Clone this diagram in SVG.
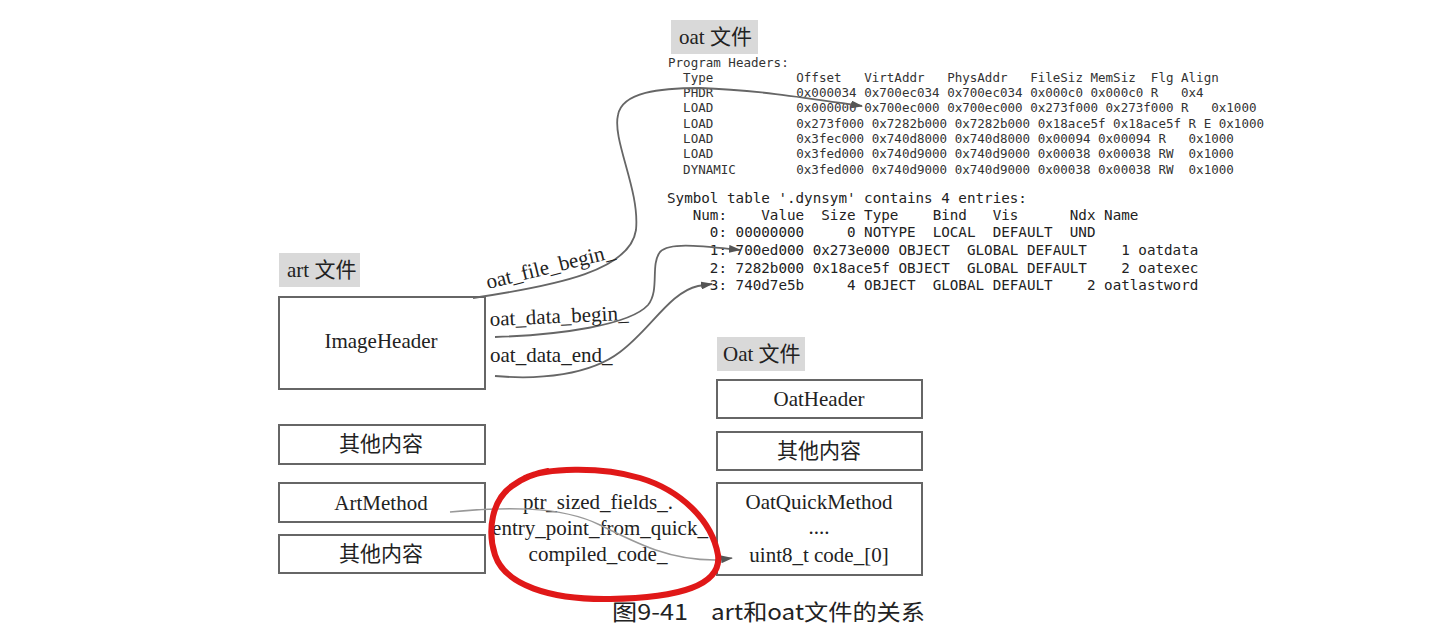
<svg xmlns="http://www.w3.org/2000/svg" width="1446" height="637" viewBox="0 0 1446 637">
<style>
.box{fill:#fff;stroke:#666;stroke-width:2}
.tag{fill:#d9d9d9}
.t{font-family:"Liberation Serif","Noto Sans CJK SC",serif;font-size:21px;fill:#222}
.c{text-anchor:middle;dominant-baseline:central}
.mono{font-family:"DejaVu Sans Mono",monospace;fill:#333}
.mono text{white-space:pre}
.ph{font-size:12.54px}
.sy{font-size:14.24px;fill:#222}
.conn{fill:none;stroke:#666;stroke-width:1.8}
.thin{fill:none;stroke:#999;stroke-width:1.5}
.cap{font-family:"Noto Sans CJK SC",sans-serif;font-size:22px;fill:#222}
.red{fill:none;stroke:#e01818;stroke-width:6;stroke-linecap:round;stroke-linejoin:round}
</style>
<defs>
<marker id="arr" viewBox="0 0 12 8" refX="11" refY="4" markerWidth="12" markerHeight="8" markerUnits="userSpaceOnUse" orient="auto">
<path d="M0,0 L12,4 L0,8 z" fill="#555"/>
</marker>
</defs>
<rect width="1446" height="637" fill="#fff"/>

<g id="oat-file-label">
<rect class="tag" x="671" y="20" width="87" height="34"/>
<text class="t" x="679" y="37" dominant-baseline="central">oat 文件</text>
</g>

<g id="readelf-program-headers" class="mono ph">
<text xml:space="preserve" x="668" y="66.5">Program Headers:</text>
<text xml:space="preserve" x="668" y="81.8">  Type           Offset   VirtAddr   PhysAddr   FileSiz MemSiz  Flg Align</text>
<text xml:space="preserve" x="668" y="97.1">  PHDR           0x000034 0x700ec034 0x700ec034 0x000c0 0x000c0 R   0x4</text>
<text xml:space="preserve" x="668" y="112.4">  LOAD           0x000000 0x700ec000 0x700ec000 0x273f000 0x273f000 R   0x1000</text>
<text xml:space="preserve" x="668" y="127.7">  LOAD           0x273f000 0x7282b000 0x7282b000 0x18ace5f 0x18ace5f R E 0x1000</text>
<text xml:space="preserve" x="668" y="143">  LOAD           0x3fec000 0x740d8000 0x740d8000 0x00094 0x00094 R   0x1000</text>
<text xml:space="preserve" x="668" y="158.3">  LOAD           0x3fed000 0x740d9000 0x740d9000 0x00038 0x00038 RW  0x1000</text>
<text xml:space="preserve" x="668" y="173.6">  DYNAMIC        0x3fed000 0x740d9000 0x740d9000 0x00038 0x00038 RW  0x1000</text>
</g>

<g id="readelf-symbol-table" class="mono sy">
<text xml:space="preserve" x="667" y="203">Symbol table '.dynsym' contains 4 entries:</text>
<text xml:space="preserve" x="667" y="219.5">   Num:    Value  Size Type    Bind   Vis      Ndx Name</text>
<text xml:space="preserve" x="667" y="237">     0: 00000000     0 NOTYPE  LOCAL  DEFAULT  UND</text>
<text xml:space="preserve" x="667" y="255">     1: 700ed000 0x273e000 OBJECT  GLOBAL DEFAULT    1 oatdata</text>
<text xml:space="preserve" x="667" y="272.5">     2: 7282b000 0x18ace5f OBJECT  GLOBAL DEFAULT    2 oatexec</text>
<text xml:space="preserve" x="667" y="290">     3: 740d7e5b     4 OBJECT  GLOBAL DEFAULT    2 oatlastword</text>
</g>

<g id="art-file-label">
<rect class="tag" x="279" y="253" width="81" height="34"/>
<text class="t" x="287" y="270" dominant-baseline="central">art 文件</text>
</g>

<g id="ImageHeader">
<rect class="box" x="279" y="297" width="206" height="92"/>
<text class="t c" x="381" y="341">ImageHeader</text>
</g>

<g id="art-other-1">
<rect class="box" x="279" y="425" width="206" height="39"/>
<text class="t c" x="381" y="444">其他内容</text>
</g>

<g id="ArtMethod">
<rect class="box" x="279" y="483" width="206" height="39"/>
<text class="t c" x="381" y="503">ArtMethod</text>
</g>

<g id="art-other-2">
<rect class="box" x="279" y="535" width="206" height="38"/>
<text class="t c" x="381" y="554">其他内容</text>
</g>

<g id="Oat-file-label">
<rect class="tag" x="717" y="337" width="88" height="34"/>
<text class="t" x="723" y="354" dominant-baseline="central">Oat 文件</text>
</g>

<g id="OatHeader">
<rect class="box" x="717" y="380" width="205" height="38"/>
<text class="t c" x="819" y="399">OatHeader</text>
</g>

<g id="oat-other">
<rect class="box" x="717" y="432" width="205" height="38"/>
<text class="t c" x="819" y="451">其他内容</text>
</g>

<g id="OatQuickMethod">
<rect class="box" x="717" y="483" width="205" height="92"/>
<text class="t c" x="819" y="502">OatQuickMethod</text>
<text class="t c" x="819" y="527">....</text>
<text class="t c" x="819" y="555">uint8_t code_[0]</text>
</g>

<g id="artmethod-fields">
<text class="t c" x="598" y="502">ptr_sized_fields_.</text>
<text class="t c" x="600" y="528">entry_point_from_quick_</text>
<text class="t c" x="598" y="554">compiled_code_</text>
</g>

<g id="connectors">
<path class="conn" marker-end="url(#arr)" d="M473,298 C560,285 630,270 636,230 C640,190 612,140 618,115 C622,92 660,88 700,88 C760,90 820,100 862,106"/>
<text class="t" transform="translate(488,289) rotate(-14)">oat_file_begin_</text>
<path class="conn" marker-end="url(#arr)" d="M495,337 C560,335 630,325 648,305 C660,290 650,265 660,252 C670,242 700,246 740,250"/>
<text class="t" transform="translate(490,326) rotate(-2.5)">oat_data_begin_</text>
<path class="conn" marker-end="url(#arr)" d="M495,376 C540,380 590,375 620,352 C650,330 670,292 698,286 L712,284"/>
<text class="t" x="490" y="362">oat_data_end_</text>
<path class="thin" marker-end="url(#arr)" d="M450,512 C500,507 560,505 600,525 C640,545 670,560 715,560 L732,558"/>
</g>

<path id="red-circle" class="red" d="M525,478 C545,468 600,466 640,478 C680,490 712,520 718,555 C722,585 680,598 610,599 C550,600 505,585 495,555 C487,530 492,500 512,486 C520,480 530,474 548,471"/>

<text id="caption" class="cap" y="620"><tspan x="612" textLength="76" lengthAdjust="spacingAndGlyphs">图9-41</tspan><tspan x="711" textLength="214" lengthAdjust="spacingAndGlyphs">art和oat文件的关系</tspan></text>
</svg>
